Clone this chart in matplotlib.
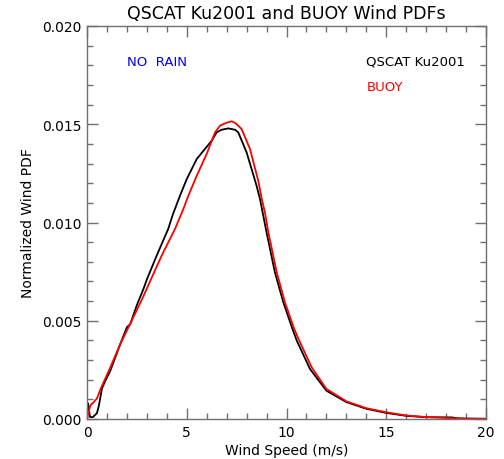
import numpy as np
import matplotlib
matplotlib.use('Agg')
import matplotlib.pyplot as plt
from matplotlib.ticker import MultipleLocator

# QSCAT Ku2001 curve (black)
qscat_x = [0, 0.05, 0.15, 0.3, 0.5, 0.6, 0.75, 0.9, 1.17, 1.67, 2.0, 2.17, 2.5, 2.83, 3.0, 3.49,
           4.07, 4.3, 4.66, 5.0, 5.5, 5.91, 6.25, 6.5, 6.75, 7.08, 7.42, 7.58, 8.0, 8.5, 8.67,
           9.0, 9.42, 9.84, 10.31, 10.51, 11.18, 12.0, 13.0, 14.0, 15.0, 16.0, 17.0, 17.3,
           18.3, 18.6, 19.0, 20.0]
qscat_y = [0.0003, 0.0008, 0.0001, 0.0001, 0.0003, 0.0007, 0.00156, 0.0019, 0.00246, 0.00382,
           0.00467, 0.00483, 0.0058, 0.00662, 0.0071, 0.00831, 0.00967, 0.0104, 0.01136,
           0.01221, 0.01323, 0.01374, 0.01416, 0.01459, 0.01472, 0.01479, 0.01472, 0.01459,
           0.01357, 0.01187, 0.0112, 0.0095, 0.00746, 0.00594, 0.00455, 0.0040, 0.00254,
           0.00144, 0.00086, 0.00052, 0.00031, 0.00016, 0.00009, 0.00009, 0.00008, 0.00003,
           0.00002, 0.00001]

# BUOY curve (red)
buoy_x = [0, 0.17, 0.33, 0.5, 0.67, 1.17, 1.67, 2.12, 2.76, 2.99, 3.74, 4.41, 4.83, 5.08,
          5.5, 6.0, 6.42, 6.67, 7.0, 7.25, 7.45, 7.75, 8.17, 8.59, 8.76, 8.92, 9.09, 9.51,
          9.92, 10.38, 10.59, 11.26, 12.0, 13.0, 14.0, 15.0, 16.0, 17.0, 18.0, 19.0, 20.0]
buoy_y = [0.0, 0.0007, 0.00085, 0.00105, 0.0015, 0.00263, 0.00382, 0.00475, 0.0061, 0.00662,
          0.00831, 0.00967, 0.01069, 0.01136, 0.01238, 0.01349, 0.01459, 0.01493, 0.01508,
          0.01515, 0.01505, 0.01476, 0.01374, 0.0121, 0.0112, 0.0105, 0.0095, 0.00746,
          0.00594, 0.0046, 0.0041, 0.00263, 0.00153, 0.0009, 0.00055, 0.00034, 0.00018,
          0.0001, 0.00005, 0.00002, 0.00001]

axcol = '#707070'

fig = plt.figure(figsize=(5.04, 4.60), dpi=100)
ax = fig.add_axes([87/504, 40/460, 399/504, 393/460])

ax.plot(qscat_x, qscat_y, color='black', lw=1.3)
ax.plot(buoy_x, buoy_y, color='red', lw=1.3)

ax.set_xlim(0, 20)
ax.set_ylim(0, 0.020)
ax.xaxis.set_major_locator(MultipleLocator(5))
ax.xaxis.set_minor_locator(MultipleLocator(1))
ax.yaxis.set_major_locator(MultipleLocator(0.005))
ax.yaxis.set_minor_locator(MultipleLocator(0.001))
ax.xaxis.set_major_formatter(plt.FuncFormatter(lambda v, p: '%d' % v))
ax.yaxis.set_major_formatter(plt.FuncFormatter(lambda v, p: '%.3f' % v))

ax.tick_params(which='both', direction='in', top=True, right=True, color=axcol,
               labelsize=10, pad=4)
ax.tick_params(which='major', length=8, width=1)
ax.tick_params(which='minor', length=4, width=1)
for s in ax.spines.values():
    s.set_color(axcol)
    s.set_linewidth(1)

ax.set_xlabel('Wind Speed (m/s)', fontsize=10, labelpad=3)
ax.set_ylabel('Normalized Wind PDF', fontsize=10, labelpad=5)
ax.set_title('QSCAT Ku2001 and BUOY Wind PDFs', fontsize=12.5, pad=6)

ax.text(2.0, 0.0182, 'NO  RAIN', color='blue', fontsize=9.5, va='center')
ax.text(14.0, 0.0182, 'QSCAT Ku2001', color='black', fontsize=9.5, va='center')
ax.text(14.0, 0.0169, 'BUOY', color='red', fontsize=9.5, va='center')

fig.savefig('out.png', dpi=100)
